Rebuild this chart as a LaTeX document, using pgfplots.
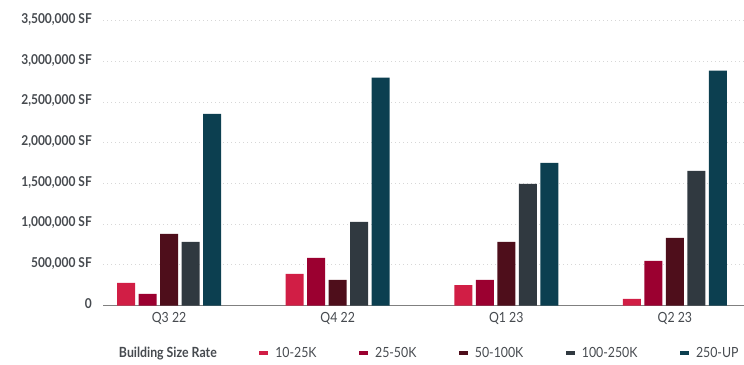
\documentclass[border=0pt]{standalone}
\usepackage{fontspec}
\setmainfont{Lato}[FakeStretch=0.88]
\usepackage{pgfplots}
\pgfplotsset{compat=1.18}

\definecolor{sizeA}{RGB}{209,30,69}
\definecolor{sizeB}{RGB}{155,0,48}
\definecolor{sizeC}{RGB}{78,14,27}
\definecolor{sizeD}{RGB}{48,57,64}
\definecolor{sizeE}{RGB}{12,63,80}
\definecolor{labelgray}{RGB}{70,74,79}
\definecolor{gridgray}{RGB}{215,215,215}
\definecolor{axisgray}{RGB}{128,128,128}

\pgfplotsset{
  sizebar/.style={fill=#1, draw=none,
    legend image code/.code={\fill[#1] (0pt,-1.65pt) rectangle (9pt,1.65pt);}},
}

\begin{document}
\begin{tikzpicture}[x=1pt,y=1pt]
\path[use as bounding box] (0,0) rectangle (744,364);
\begin{axis}[
  at={(103pt,58.5pt)}, anchor=south west,
  scale only axis, width=641pt, height=284.5pt,
  xmin=-0.392, xmax=3.41, ymin=0, ymax=3500000,
  ybar, bar width=0.1068,
  scaled y ticks=false,
  axis x line*=bottom, axis y line*=left,
  y axis line style={draw=none},
  x axis line style={draw=axisgray, line width=1.5pt, -},
  major tick length=0pt, tick style={draw=none},
  xtick={0,1,2,3},
  xticklabels={Q3 22,Q4 22,Q1 23,Q2 23},
  xticklabel style={font=\fontsize{14}{16}\selectfont, text=labelgray, inner sep=0pt, anchor=north, yshift=-7pt},
  ytick={0,500000,1000000,1500000,2000000,2500000,3000000,3500000},
  yticklabels={0,{500,000 SF},{1,000,000 SF},{1,500,000 SF},{2,000,000 SF},{2,500,000 SF},{3,000,000 SF},{3,500,000 SF}},
  yticklabel style={font=\bfseries\fontsize{13.6}{16}\selectfont, text=labelgray, inner sep=0pt, anchor=east, xshift=-11pt, yshift=1.5pt},
  ymajorgrids, major grid style={draw=gridgray, line width=1pt, dash pattern=on 1.3pt off 2.7pt},
  legend columns=-1,
  legend style={at={(0,0)}, anchor=west, xshift=9pt, yshift=-47.5pt,
    draw=none, fill=none, inner sep=0pt, outer sep=0pt,
    font=\fontsize{14}{16}\selectfont, text=labelgray,
    nodes={inner sep=0pt},
    /tikz/every odd column/.append style={column sep=7pt},
    /tikz/every even column/.append style={column sep=42.5pt}},
]
\addlegendimage{empty legend}
\addlegendentry{\textbf{Building Size Rate}}

% 10-25K
\addplot[sizebar=sizeA, bar shift=-0.2552] coordinates {(0,277000) (1,388000) (2,252000) (3,80000)};
\addlegendentry{10-25K}
% 25-50K
\addplot[sizebar=sizeB, bar shift=-0.1276] coordinates {(0,142000) (1,585000) (2,314000) (3,548000)};
\addlegendentry{25-50K}
% 50-100K
\addplot[sizebar=sizeC, bar shift=0] coordinates {(0,880000) (1,314000) (2,782000) (3,831000)};
\addlegendentry{50-100K}
% 100-250K
\addplot[sizebar=sizeD, bar shift=0.1276] coordinates {(0,782000) (1,1028000) (2,1496000) (3,1656000)};
\addlegendentry{100-250K}
% 250-UP
\addplot[sizebar=sizeE, bar shift=0.2552] coordinates {(0,2358000) (1,2802000) (2,1755000) (3,2888000)};
\addlegendentry{250-UP}
\end{axis}
\end{tikzpicture}
\end{document}
